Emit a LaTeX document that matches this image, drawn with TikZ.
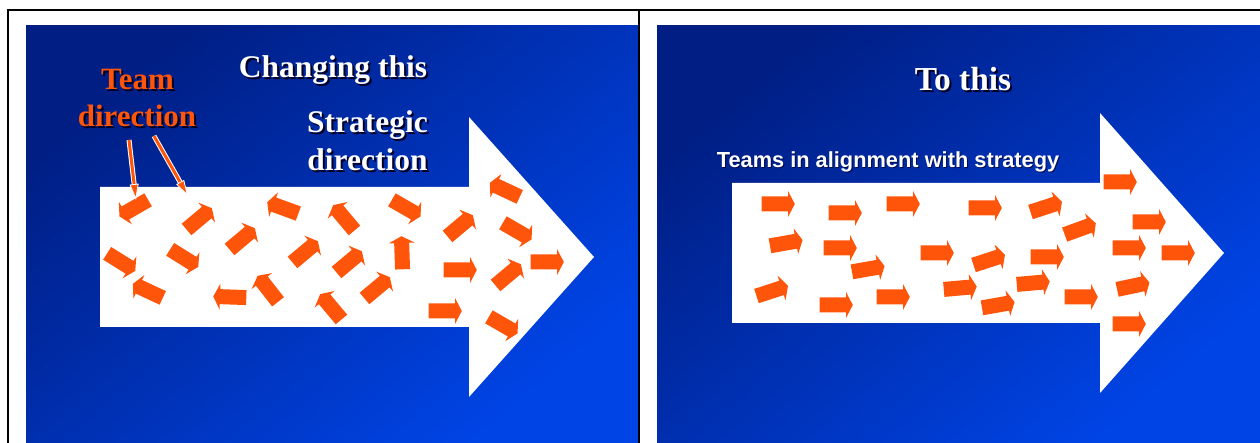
\documentclass[tikz,border=0pt]{standalone}
\usepackage{fontspec}
\setmainfont{Liberation Serif}
\setsansfont{Liberation Sans}
\usetikzlibrary{arrows.meta,calc}
\definecolor{navy}{RGB}{0,30,132}
\definecolor{brightblue}{RGB}{0,68,230}
\definecolor{ora}{RGB}{255,85,10}
\definecolor{shadowc}{RGB}{0,0,35}
\newcommand{\oarr}[4]{%
  \fill[smallarrow, shift={(#2,#3)}, rotate=#4] (-16.3,-7.5) -- (10,-7.5) -- (10,-13) -- (16.8,0) -- (10,13) -- (10,7.5) -- (-16.3,7.5) -- cycle;
  \coordinate (#1) at (#2,#3);}
\newcommand{\stxt}[5]{%
  \node[#4, text=shadowc, anchor=base] at ($(#2,#3)+(2,2)$) {#5};
  \node[#4, anchor=base] (#1) at (#2,#3) {#5};}
\tikzset{
  slide/.style={top color=navy, bottom color=brightblue, shading angle=40},
  bigarrow/.style={fill=white},
  smallarrow/.style={fill=ora},
  frame/.style={draw=black, line width=2pt},
  serifw/.style={inner sep=0pt, text=white, font=\bfseries\fontsize{31.5}{31.5}\selectfont},
  serifo/.style={inner sep=0pt, text=ora, font=\bfseries\fontsize{31}{31}\selectfont},
  serifbig/.style={inner sep=0pt, text=white, font=\bfseries\fontsize{33.5}{33.5}\selectfont},
  sansw/.style={inner sep=0pt, text=white, font=\sffamily\bfseries\fontsize{21.8}{21.8}\selectfont},
  pointerbg/.style={draw=white, line width=5pt, shorten >=12pt},
  pointer/.style={draw=ora, line width=3pt, -{Triangle[length=16pt,width=9pt,fill=ora,color=white,line width=0.8pt]}},
}
\begin{document}
\begin{tikzpicture}[x=1pt, y=-1pt]
\useasboundingbox (0,0) rectangle (1260,443);
\fill[white] (0,0) rectangle (1260,443);
% slides
\shade[slide] (26,26) rectangle (638,443);
\shade[slide] (657,26) rectangle (1260,443);
% frame lines
\draw[frame] (8,443) -- (8,10) -- (1260,10);
\draw[frame] (639.3,10) -- (639.3,443);
% big white arrows
\fill[bigarrow] (100,187) -- (469,187) -- (469,117) -- (594,257) -- (469,397) -- (469,327) -- (100,327) -- cycle;
\fill[bigarrow] (732,183) -- (1100,183) -- (1100,113) -- (1224,253) -- (1100,393) -- (1100,323) -- (732,323) -- cycle;
% left small arrows
\oarr{a1}{134}{208}{210}
\oarr{a2}{199}{219}{40}
\oarr{a3}{283}{208}{160}
\oarr{a4}{242}{239}{40}
\oarr{a5}{344}{218}{130}
\oarr{a6}{121}{262}{-32}
\oarr{a7}{184}{258}{-32}
\oarr{a8}{148}{291}{155}
\oarr{a9}{230}{297}{178}
\oarr{a10}{268}{289}{128}
\oarr{a11}{305}{252}{40}
\oarr{a12}{331}{307}{130}
\oarr{a13}{349}{262}{40}
\oarr{a14}{377}{288}{40}
\oarr{a15}{406}{208}{-30}
\oarr{a16}{402}{253}{92}
\oarr{a17}{460}{226}{40}
\oarr{a18}{460}{270}{0}
\oarr{a19}{445}{311}{0}
\oarr{a20}{505}{190}{155}
\oarr{a21}{517}{231}{-30}
\oarr{a22}{508}{275}{40}
\oarr{a23}{547}{262}{0}
\oarr{a24}{503}{325}{-30}
% right small arrows
\oarr{b1}{778}{204}{0}
\oarr{b2}{845}{213}{0}
\oarr{b3}{903}{204}{0}
\oarr{b4}{786}{243}{10}
\oarr{b5}{840}{248}{0}
\oarr{b6}{868}{269}{10}
\oarr{b7}{937}{253}{0}
\oarr{b8}{772}{291}{18}
\oarr{b9}{836}{305}{0}
\oarr{b10}{893}{297}{0}
\oarr{b11}{960}{288}{5}
\oarr{b12}{985}{208}{0}
\oarr{b13}{1046}{207}{18}
\oarr{b14}{1080}{229}{20}
\oarr{b15}{1120}{182}{0}
\oarr{b16}{1149}{222}{0}
\oarr{b17}{1129}{248}{0}
\oarr{b18}{1178}{253}{0}
\oarr{b19}{989}{260}{18}
\oarr{b20}{1047}{257}{0}
\oarr{b21}{1033}{283}{5}
\oarr{b22}{998}{305}{10}
\oarr{b23}{1081}{297}{0}
\oarr{b24}{1133}{286}{12}
\oarr{b25}{1129}{324}{0}
% texts
\stxt{team1}{137.5}{90}{serifo}{Team}
\stxt{team2}{137}{127}{serifo}{direction}
\stxt{chg}{333}{78}{serifw}{Changing this}
\stxt{str1}{367.5}{133}{serifw}{Strategic}
\stxt{str2}{367.5}{171}{serifw}{direction}
\stxt{tothis}{963}{91}{serifbig}{To this}
\node[sansw, text=shadowc!60!navy, anchor=base] at (889,169) {Teams in alignment with strategy};
\node[sansw, anchor=base] (teams) at (888,168) {Teams in alignment with strategy};
% pointers
\coordinate (p1s) at (129,140);
\coordinate (p1e) at (136,200);
\coordinate (p2s) at (154,136);
\coordinate (p2e) at (188,196);
\draw[pointerbg] (p1s) -- (p1e);
\draw[pointerbg] (p2s) -- (p2e);
\draw[pointer] (p1s) -- (p1e);
\draw[pointer] (p2s) -- (p2e);
\end{tikzpicture}
\end{document}
